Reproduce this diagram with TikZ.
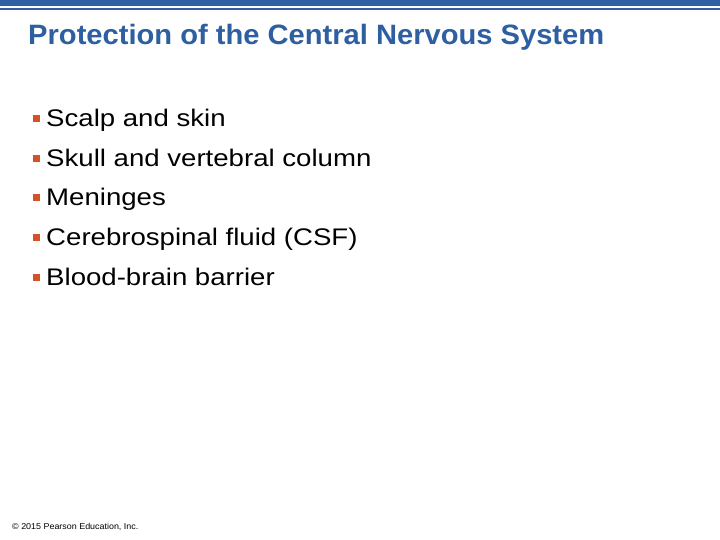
\documentclass[tikz,border=0pt]{standalone}
\usepackage{fontspec}
\setmainfont{Liberation Sans}
\usepackage{xcolor}
\usetikzlibrary{positioning}
\definecolor{slideblue}{RGB}{46,95,160}
\definecolor{bulletorange}{RGB}{214,80,40}
\tikzset{
  itemtext/.style={anchor=base west, inner sep=0pt, font=\fontsize{24}{28}\selectfont, xscale=1.15},
  bulletbox/.style={fill=bulletorange, minimum size=7pt, inner sep=0pt},
}
\begin{document}
\begin{tikzpicture}[x=1pt,y=-1pt]
  \useasboundingbox (0,0) rectangle (720,540);
  \fill[white] (0,0) rectangle (720,540);
  % top bars
  \fill[slideblue] (0,0) rectangle (720,6);
  \fill[slideblue] (0,8) rectangle (720,10);
  % title
  \node[anchor=base west, inner sep=0pt, text=slideblue, xscale=1.04,
    font=\fontsize{28}{32}\selectfont\bfseries] (title) at (28,45)
    {Protection of the Central Nervous System};
  % bullets
  \foreach \txt [count=\i] in {Scalp and skin, Skull and vertebral column,
      Meninges, Cerebrospinal fluid (CSF), Blood-brain barrier} {
    \node[itemtext] (item\i) at (46,127+39.5*\i-39.5) {\txt};
    \node[bulletbox] (dot\i) at (36.5,119+39.5*\i-39.5) {};
  }
  % footer
  \node[anchor=base west, inner sep=0pt, font=\fontsize{8.5}{10}\selectfont, xscale=1.05] (copy) at (12,529)
    {© 2015 Pearson Education, Inc.};
\end{tikzpicture}
\end{document}
